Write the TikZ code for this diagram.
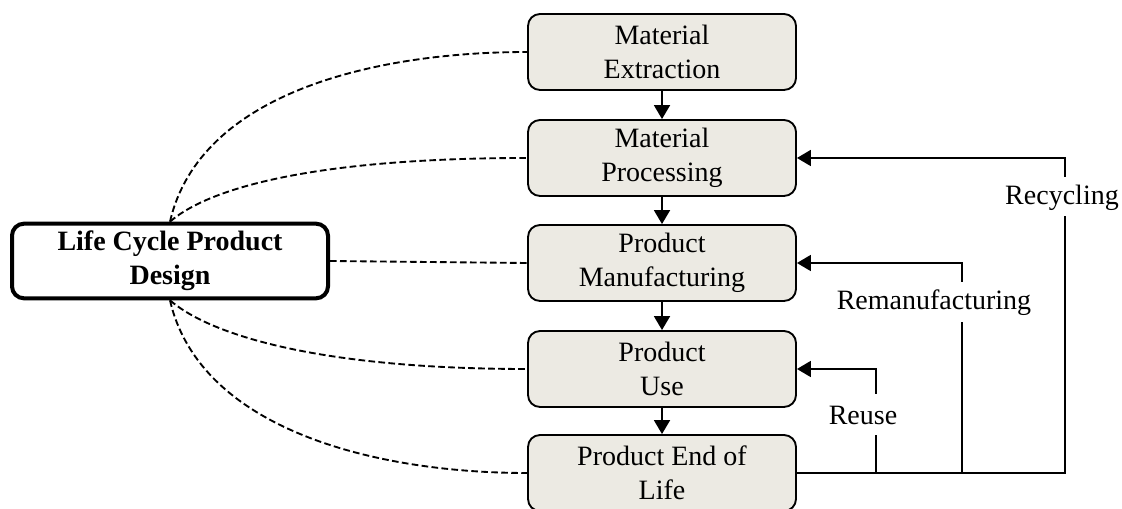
\documentclass[tikz,border=0pt]{standalone}
\usepackage{fontspec}
\setmainfont{Liberation Serif}
\usetikzlibrary{arrows.meta,positioning}
\definecolor{boxfill}{HTML}{ECEAE3}
\tikzset{
    %Define standard arrow tip
    >={Triangle[width=12pt,length=10.5pt]},
    %Define style for stage boxes
    stage/.style={
           rectangle,
           rounded corners=9pt,
           draw=black, line width=1.4pt,
           fill=boxfill,
           minimum width=201pt,
           minimum height=57pt,
           align=center,
           font=\fontsize{21}{25.5}\selectfont},
    design/.style={
           rectangle,
           rounded corners=9pt,
           draw=black, line width=3pt,
           minimum width=237pt,
           minimum height=56pt,
           align=center,
           font=\fontsize{21}{25.5}\selectfont\bfseries},
    lbl/.style={font=\fontsize{21}{25.5}\selectfont, inner sep=0pt},
    % Define connector styles
    flow/.style={->, line width=1.4pt},
    link/.style={line width=1.4pt, dash pattern=on 5pt off 2.5pt}
}
\begin{document}
\begin{tikzpicture}[x=0.75pt,y=-0.75pt]
\useasboundingbox (0,0) rectangle (1122,509);

 %nodes
\node[stage] (extr) at (662,52) {Material\\Extraction};
\node[stage] (proc) at (662,158) {Material\\Processing};
\node[stage] (manu) at (662,263) {Product\\Manufacturing};
\node[stage] (use) at (662,369) {Product\\Use};
\node[stage] (eol) at (662,473) {Product End of\\Life};
\node[design] (lcpd) at (170,261) {Life Cycle Product\\Design};

\node[lbl] (reuse) at (863,415) {Reuse};
\node[lbl] (reman) at (934,303) {Remanufacturing};
\node[lbl] (recyc) at (1062,198) {Recycling};

 %junctions on the return line
\coordinate (j1) at (876,473);
\coordinate (j2) at (962,473);
\coordinate (j3) at (1065,473);
\coordinate (g1) at (876,394);
\coordinate (g1b) at (876,435);
\coordinate (g2) at (962,282);
\coordinate (g2b) at (962,322);
\coordinate (g3) at (1065,177);
\coordinate (g3b) at (1065,216);

 %stage flow
\draw[flow] (extr) -- (proc);
\draw[flow] (proc) -- (manu);
\draw[flow] (manu) -- (use);
\draw[flow] (use) -- (eol);

 %return loops
\draw[line width=1.4pt] (eol.east) -- (j3) -- (g3b);
\draw[line width=1.4pt] (j1) -- (g1b);
\draw[line width=1.4pt] (j2) -- (g2b);
\draw[flow] (g1) -- (use.east -| g1) -- (use.east);
\draw[flow] (g2) -- (manu.east -| g2) -- (manu.east);
\draw[flow] (g3) -- (proc.east -| g3) -- (proc.east);

 %design links
\draw[link] (lcpd.north) .. controls +(30,-130) and +(-150,0) .. (extr.west);
\draw[link] (lcpd.north) .. controls +(43,-37) and +(-200,0) .. (proc.west);
\draw[link] (lcpd.east) -- (manu.west);
\draw[link] (lcpd.south) .. controls +(43,37) and +(-200,0) .. (use.west);
\draw[link] (lcpd.south) .. controls +(30,130) and +(-150,0) .. (eol.west);

\end{tikzpicture}
\end{document}
